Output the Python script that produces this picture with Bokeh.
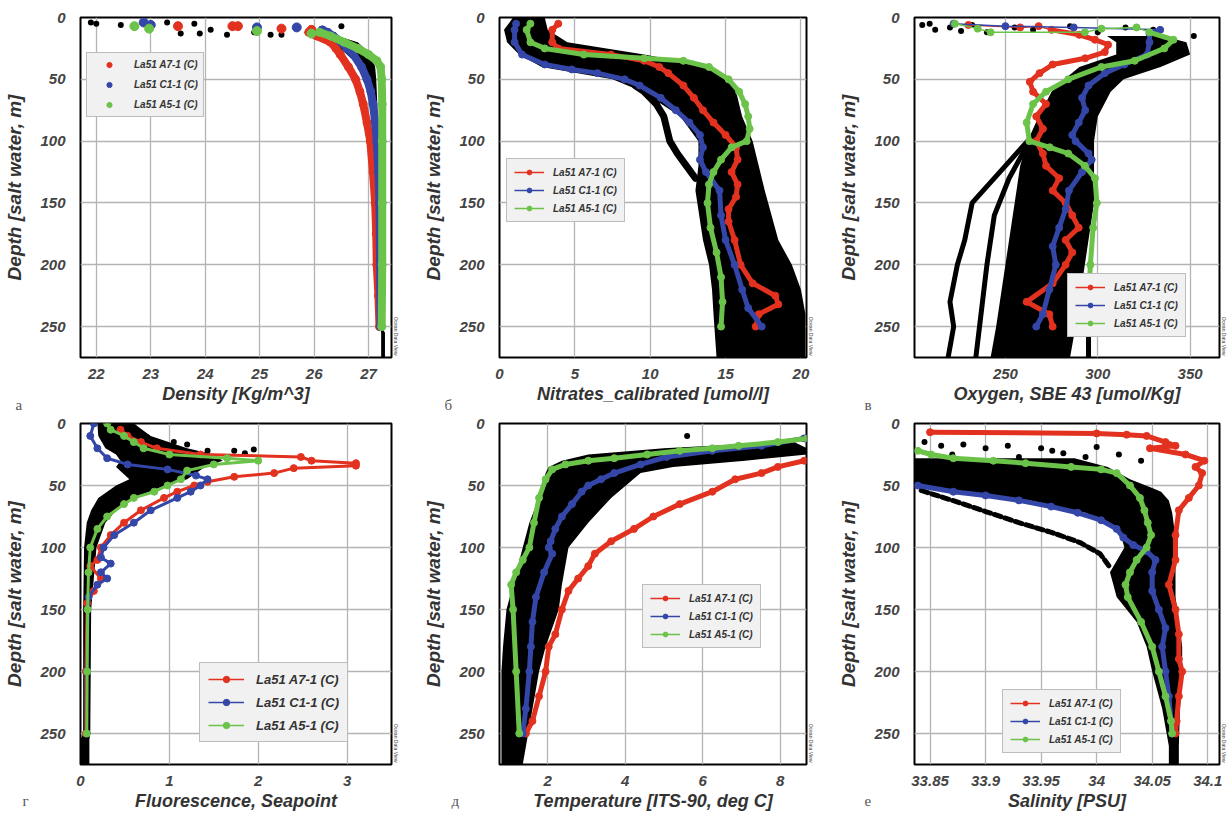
import math
from bokeh.plotting import figure
from bokeh.models import Range1d, FixedTicker, Legend, LegendItem, Title
from bokeh.layouts import gridplot
from bokeh.embed import file_html
from bokeh.resources import INLINE

RED = "#e2321f"
BLUE = "#3447a8"
GREEN = "#6cc34a"
NAMES = ["La51 A7-1 (C)", "La51 C1-1 (C)", "La51 A5-1 (C)"]
DEPTH_TICKS = [0, 50, 100, 150, 200, 250]
Y_LABEL = "Depth [salt water, m]"

# ---------------- а: Density ----------------
dens_ticks = [22, 23, 24, 25, 26, 27]
dens_red_d = [12, 15, 20, 25, 30, 40, 50, 60, 70, 85, 100, 125, 150, 175, 200, 225, 250]
dens_red_v = [25.9, 26.05, 26.3, 26.4, 26.48, 26.63, 26.76, 26.84, 26.9, 26.97, 27.03, 27.08, 27.12, 27.14, 27.15, 27.18, 27.2]
dens_blue_d = [10, 12, 15, 20, 25, 30, 40, 50, 60, 70, 85, 100, 125, 150, 200, 250]
dens_blue_v = [26.15, 26.25, 26.35, 26.5, 26.6, 26.72, 26.87, 26.97, 27.04, 27.08, 27.12, 27.15, 27.18, 27.2, 27.21, 27.22]
dens_green_d = [12, 15, 20, 25, 30, 35, 40, 50, 70, 100, 150, 200, 250]
dens_green_v = [26.1, 26.3, 26.55, 26.8, 27.0, 27.15, 27.22, 27.24, 27.25, 27.25, 27.25, 27.25, 27.24]
dens_red_sd = [7, 7, 7, 9, 10]
dens_red_sv = [23.5, 24.5, 24.6, 25.4, 25.95]
dens_blue_sd = [4, 6, 8, 8, 11]
dens_blue_sv = [22.87, 23.0, 24.95, 25.68, 26.14]
dens_green_sd = [7, 9, 11, 13]
dens_green_sv = [22.7, 22.97, 24.95, 25.95]
dens_blk_d = [4, 5, 6, 7, 13, 13, 14, 12, 14, 14, 7, 4, 5, 10]
dens_blk_v = [21.9, 22.0, 22.45, 23.0, 23.55, 23.9, 24.4, 24.9, 25.2, 25.4, 26.5, 23.3, 23.8, 24.1]
dens_cl_d = [12, 20, 30, 40, 50, 70, 100, 150, 200, 250, 255, 275]
dens_cl_l = [25.8, 26.35, 26.6, 26.85, 26.97, 27.05, 27.12, 27.17, 27.2, 27.22, 27.23, 27.23]
dens_cl_r = [26.2, 26.8, 27.05, 27.12, 27.14, 27.16, 27.18, 27.2, 27.22, 27.24, 27.3, 27.3]

# ---------------- б: Nitrates ----------------
nit_ticks = [0, 5, 10, 15, 20]
nit_red_d = [5, 10, 20, 25, 30, 35, 40, 45, 55, 65, 75, 85, 95, 105, 115, 125, 135, 145, 155, 165, 180, 200, 215, 225, 232, 240, 250]
nit_red_v = [3.9, 3.5, 3.5, 3.9, 7.4, 9.6, 10.6, 11.2, 12.2, 12.9, 13.5, 14.2, 15.0, 15.7, 15.8, 15.4, 15.8, 15.7, 15.2, 15.2, 15.6, 16.0, 16.8, 18.3, 18.5, 17.2, 17.0]
nit_blue_d = [5, 10, 20, 30, 38, 42, 45, 50, 55, 65, 75, 85, 95, 105, 115, 125, 140, 160, 180, 200, 220, 235, 250]
nit_blue_v = [1.1, 1.0, 1.0, 1.5, 3.0, 4.8, 6.5, 8.3, 9.3, 10.7, 11.7, 12.6, 13.3, 13.5, 13.3, 13.7, 14.6, 14.7, 15.0, 15.6, 16.1, 16.5, 17.4]
nit_green_d = [5, 10, 20, 25, 30, 33, 35, 40, 50, 60, 70, 80, 90, 100, 105, 115, 125, 135, 150, 170, 190, 210, 230, 250]
nit_green_v = [2.05, 1.8, 2.05, 3.0, 5.6, 9.6, 12.2, 13.9, 15.2, 15.9, 16.3, 16.5, 16.6, 16.4, 15.4, 14.7, 14.2, 13.9, 13.8, 14.0, 14.4, 14.7, 14.8, 14.7]
nit_cl_d = [0, 10, 20, 30, 40, 50, 60, 80, 100, 120, 140, 180, 200, 220, 240, 275]
nit_cl_l = [0.9, 0.3, 0.5, 1.3, 2.8, 7.5, 9.5, 12.0, 13.2, 13.2, 13.0, 13.5, 13.9, 14.1, 14.2, 14.4]
nit_cl_r = [3.0, 3.2, 4.5, 9.6, 13.9, 15.2, 15.7, 16.1, 16.8, 17.2, 17.6, 18.5, 19.4, 20.0, 20.3, 20.3]
nit_out_d = [55, 60, 70, 80, 90, 100, 110, 120, 130]
nit_out_v = [9.0, 9.6, 10.4, 10.9, 11.1, 11.3, 11.8, 12.4, 13.0]

# ---------------- в: Oxygen ----------------
oxy_ticks = [250, 300, 350]
oxy_red_d = [10, 14, 18, 22, 28, 33, 38, 45, 52, 60, 70, 80, 90, 100, 110, 120, 130, 140, 150, 160, 170, 180, 190, 200, 215, 230, 240, 250]
oxy_red_v = [275, 290, 298.5, 305.6, 303.8, 293.2, 275.6, 268.5, 263.2, 265, 272, 266.7, 270.3, 266.7, 270.3, 272, 279.1, 275.6, 282.6, 286.2, 289.7, 282.6, 286.2, 282.6, 275.6, 261.5, 273.8, 275.6]
oxy_blue_d = [10, 13, 20, 30, 38, 45, 55, 65, 75, 85, 95, 100, 110, 115, 125, 140, 155, 170, 185, 200, 220, 240, 250]
oxy_blue_v = [333.8, 328, 328, 326.7, 314.4, 303.8, 295, 291.5, 293.2, 289.7, 286.2, 288, 295, 296.7, 291.5, 284.4, 282.6, 279.1, 275.6, 277.3, 273.8, 270.3, 266.7]
oxy_green_d = [12, 18, 25, 35, 40, 50, 60, 70, 85, 100, 105, 110, 120, 130, 150, 170, 200, 230, 250]
oxy_green_v = [328, 341, 336, 320, 302, 284, 272, 265, 261.5, 263, 274, 284, 293, 298.5, 299.5, 297.5, 296, 295, 295]
oxy_red_sd = [6, 8, 7]
oxy_red_sv = [230, 258, 268]
oxy_blue_sd = [5, 7, 8]
oxy_blue_sv = [222, 250, 287]
oxy_green_sd = [5, 9, 12, 12, 9, 8]
oxy_green_sv = [222.7, 235, 242, 293, 302, 321]
oxy_blk_d = [6, 10, 8, 6, 12, 8, 10, 7, 12, 8, 10, 15, 5, 11]
oxy_blk_v = [205, 212, 220, 232, 240, 255, 265, 285, 300, 315, 330, 352, 209, 226]
oxy_cl_d = [15, 20, 30, 40, 50, 60, 80, 100, 120, 150, 200, 250, 275]
oxy_cl_l = [305, 310, 310, 290, 282, 275, 268, 262, 258, 255, 250, 245, 242]
oxy_cl_r = [335, 348, 350, 334, 314, 307, 300, 298, 298, 298, 293, 288, 285]
oxy_out1_d = [100, 120, 150, 180, 200, 230, 250, 275]
oxy_out1_v = [262, 250, 232, 228, 224, 220, 222, 219]
oxy_out2_d = [100, 130, 160, 200, 250, 275]
oxy_out2_v = [263, 252, 244, 240, 236, 234]
oxy_out3_d = [252, 275]
oxy_out3_v = [295, 295]

# ---------------- г: Fluorescence ----------------
flu_ticks = [0, 1, 2, 3]
flu_red_d = [5, 10, 15, 20, 25, 27, 30, 32, 34, 36, 40, 43, 47, 50, 55, 60, 70, 80, 90, 100, 110, 115, 125, 135, 145, 200, 250]
flu_red_v = [0.45, 0.53, 0.68, 0.86, 1.35, 2.48, 2.6, 3.1, 3.1, 2.4, 2.18, 1.73, 1.43, 1.28, 1.09, 0.94, 0.68, 0.49, 0.34, 0.23, 0.19, 0.11, 0.23, 0.15, 0.075, 0.06, 0.06]
flu_blue_d = [0, 10, 20, 28, 33, 37, 42, 45, 50, 55, 60, 70, 80, 90, 100, 108, 113, 120, 125, 130, 140, 200, 250]
flu_blue_v = [0.15, 0.11, 0.19, 0.3, 0.53, 0.98, 1.3, 1.43, 1.35, 1.24, 1.09, 0.79, 0.6, 0.38, 0.26, 0.23, 0.34, 0.23, 0.3, 0.19, 0.09, 0.07, 0.07]
flu_green_d = [0, 5, 10, 15, 20, 25, 28, 30, 33, 38, 45, 50, 55, 60, 65, 75, 85, 100, 120, 150, 200, 250]
flu_green_v = [0.3, 0.34, 0.49, 0.6, 0.71, 1.0, 1.65, 2.0, 1.5, 1.2, 1.13, 0.98, 0.83, 0.6, 0.49, 0.3, 0.19, 0.11, 0.09, 0.08, 0.075, 0.07]
flu_blk_d = [3, 11, 19, 17, 22, 22, 21, 27, 15, 24]
flu_blk_v = [0.6, 0.75, 0.98, 1.2, 1.43, 1.73, 1.95, 1.5, 1.05, 1.85]
flu_cl_d = [0, 10, 20, 25, 30, 35, 45, 50, 60, 70, 80, 100, 150, 250, 255, 275]
flu_cl_l = [0.19, 0.2, 0.28, 0.4, 0.45, 0.4, 0.55, 0.4, 0.2, 0.12, 0.07, 0.04, 0.03, 0.03, 0.0, 0.0]
flu_cl_r = [0.6, 0.79, 1.2, 1.5, 1.6, 1.4, 1.2, 0.95, 0.6, 0.4, 0.28, 0.18, 0.12, 0.11, 0.1, 0.1]

# ---------------- д: Temperature ----------------
tmp_ticks = [2, 4, 6, 8]
tmp_red_d = [30, 35, 40, 45, 55, 65, 75, 85, 95, 105, 115, 125, 135, 150, 170, 180, 200, 220, 240, 250]
tmp_red_v = [8.62, 7.94, 7.52, 6.84, 6.25, 5.41, 4.73, 4.23, 3.64, 3.22, 3.05, 2.79, 2.54, 2.37, 2.2, 2.03, 1.95, 1.78, 1.61, 1.44]
tmp_blue_d = [12, 18, 22, 27, 33, 40, 45, 50, 55, 65, 75, 85, 95, 100, 105, 120, 140, 160, 180, 200, 230, 250]
tmp_blue_v = [8.62, 7.52, 6.25, 5.07, 4.4, 3.72, 3.38, 3.05, 2.88, 2.63, 2.37, 2.2, 2.08, 2.03, 2.12, 1.91, 1.7, 1.61, 1.57, 1.53, 1.44, 1.36]
tmp_green_d = [12, 15, 18, 20, 22, 25, 28, 30, 33, 37, 45, 60, 80, 100, 110, 120, 130, 150, 200, 250]
tmp_green_v = [8.7, 7.94, 6.93, 6.25, 5.41, 4.57, 3.72, 3.05, 2.46, 2.12, 1.95, 1.78, 1.65, 1.53, 1.36, 1.19, 1.06, 1.11, 1.19, 1.27]
tmp_blk_d = [10]
tmp_blk_v = [5.6]
tmp_cl_d = [15, 20, 25, 30, 35, 40, 60, 80, 100, 130, 150, 180, 200, 275]
tmp_cl_l = [8.0, 5.0, 3.05, 2.37, 2.03, 1.95, 1.78, 1.53, 1.36, 1.11, 0.94, 0.85, 0.81, 0.81]
tmp_cl_r = [8.36, 8.7, 8.7, 7.1, 5.24, 4.4, 3.64, 3.05, 2.54, 2.37, 2.29, 1.95, 1.78, 1.36]

# ---------------- е: Salinity ----------------
sal_ticks = [33.85, 33.9, 33.95, 34.0, 34.05, 34.1]
sal_tick_labels = ["33.85", "33.9", "33.95", "34", "34.05", "34.1"]
sal_red_d = [7, 8, 9, 10, 15, 18, 20, 25, 30, 35, 40, 50, 60, 70, 90, 110, 130, 150, 170, 190, 200, 220, 240, 250]
sal_red_v = [33.85, 34.0, 34.027, 34.045, 34.062, 34.071, 34.048, 34.08, 34.097, 34.089, 34.095, 34.092, 34.083, 34.074, 34.071, 34.071, 34.065, 34.071, 34.074, 34.074, 34.077, 34.074, 34.072, 34.071]
sal_blue_d = [50, 55, 58, 62, 67, 72, 78, 85, 92, 98, 103, 110, 120, 135, 150, 165, 180, 200, 220, 240, 250]
sal_blue_v = [33.839, 33.871, 33.9, 33.93, 33.959, 33.983, 34.004, 34.018, 34.024, 34.033, 34.045, 34.053, 34.05, 34.05, 34.056, 34.062, 34.059, 34.062, 34.065, 34.067, 34.068]
sal_green_d = [22, 25, 28, 30, 32, 35, 37, 40, 50, 60, 70, 80, 90, 100, 110, 120, 130, 140, 160, 180, 200, 220, 240, 250]
sal_green_v = [33.839, 33.851, 33.871, 33.907, 33.936, 33.977, 34.004, 34.018, 34.03, 34.039, 34.043, 34.046, 34.049, 34.045, 34.036, 34.03, 34.026, 34.028, 34.04, 34.05, 34.056, 34.062, 34.067, 34.068]
sal_blk_d = [15, 18, 17, 20, 18, 20, 24, 27, 25, 30, 25, 27, 22, 19]
sal_blk_v = [33.845, 33.86, 33.88, 33.9, 33.92, 33.95, 33.97, 33.99, 34.02, 34.04, 33.87, 33.93, 33.96, 34.0]
sal_cl_d = [28, 35, 45, 52, 55, 62, 72, 85, 100, 120, 140, 160, 180, 200, 230, 260, 275]
sal_cl_l = [33.836, 33.836, 33.836, 33.836, 33.88, 33.94, 33.99, 34.02, 34.025, 34.012, 34.018, 34.036, 34.045, 34.05, 34.059, 34.065, 34.065]
sal_cl_r = [33.98, 34.01, 34.03, 34.05, 34.058, 34.065, 34.068, 34.07, 34.071, 34.071, 34.071, 34.074, 34.077, 34.077, 34.075, 34.074, 34.074]
sal_out_d = [54, 62, 71, 80, 88, 96, 105, 116]
sal_out_v = [33.842, 33.87, 33.9, 33.93, 33.96, 33.985, 34.003, 34.012]

FONT = "Liberation Sans"


def make_panel(xr, xticks, xlabel, letter, w, h, bl, br, bt, bb, letter_off, letter_standoff, overrides=None):
    p = figure(width=w, height=h, x_range=Range1d(*xr), y_range=Range1d(275, 0),
               output_backend="svg", toolbar_location=None,
               min_border_left=bl, min_border_right=br, min_border_top=bt, min_border_bottom=bb)
    p.background_fill_color = "white"
    p.border_fill_color = "white"
    p.outline_line_color = "black"
    p.outline_line_width = 2
    p.xaxis.ticker = FixedTicker(ticks=xticks)
    p.yaxis.ticker = FixedTicker(ticks=DEPTH_TICKS)
    if overrides:
        p.xaxis.major_label_overrides = overrides
    for ax in (p.xaxis[0], p.yaxis[0]):
        ax.axis_line_color = None
        ax.major_tick_line_color = None
        ax.minor_tick_line_color = None
        ax.major_label_text_font = FONT
        ax.major_label_text_font_style = "bold italic"
        ax.major_label_text_font_size = "15px"
        ax.major_label_text_color = "#444444"
        ax.axis_label_text_font = FONT
        ax.axis_label_text_font_style = "bold italic"
        ax.axis_label_text_color = "#333333"
    p.xaxis.axis_label_text_font_size = "18px"
    p.yaxis.axis_label_text_font_size = "19px"
    p.xaxis.axis_label = xlabel
    p.yaxis.axis_label = Y_LABEL
    p.xaxis.major_label_standoff = 5
    p.xaxis.axis_label_standoff = 2
    p.yaxis.major_label_standoff = 9
    p.yaxis.axis_label_standoff = 12
    p.grid.grid_line_color = "#b4b4b4"
    p.grid.grid_line_width = 1.3
    p.add_layout(Title(text=letter, align="left", offset=letter_off, vertical_align="top",
                       standoff=letter_standoff, text_font="Liberation Serif",
                       text_font_size="15px", text_font_style="normal",
                       text_color="#555555"), "below")
    p.add_layout(Title(text="Ocean Data View", align="right", offset=2, standoff=3,
                       text_font=FONT, text_font_size="5px", text_font_style="normal",
                       text_color="#444444"), "right")
    return p


def band(p, d, l, r):
    p.harea(x1=l, x2=r, y=d, fill_color="black")


def black_line(p, v, d, width=5, dash="solid"):
    p.line(v, d, line_color="black", line_width=width, line_dash=dash, line_cap="round")


def black_dots(p, v, d, size=5):
    p.scatter(v, d, marker="circle", size=size, fill_color="black", line_color=None)


def series(p, v, d, color, lw=5, size=7):
    p.line(v, d, line_color=color, line_width=lw, line_join="round", line_cap="round")
    thin = p.line(v, d, line_color=color, line_width=1.5)
    pts = p.scatter(v, d, marker="circle", size=size, fill_color=color, line_color=color)
    return thin, pts


def legend(p, items, loc, font="10px", glyph_w=30, lab_h=12, spacing=6, padding=7, standoff=9):
    lg = Legend(items=items, location=loc)
    lg.label_text_font = FONT
    lg.label_text_font_style = "bold italic"
    lg.label_text_font_size = font
    lg.label_text_color = "#333333"
    lg.glyph_width = glyph_w
    lg.glyph_height = lab_h
    lg.label_height = lab_h
    lg.label_standoff = standoff
    lg.spacing = spacing
    lg.padding = padding
    lg.margin = 0
    lg.border_line_color = "#8a8a8a"
    lg.border_line_width = 1
    lg.background_fill_color = "#f1f1f1"
    lg.background_fill_alpha = 1.0
    p.add_layout(lg)


COLORS = [RED, BLUE, GREEN]
TOP_H, TOP_BT, TOP_BB = 416, 17, 59
BOT_H, BOT_BT, BOT_BB = 398, 6, 50
TOP_LS = -20
BOT_LS = -42

# ---- Panel а
p1 = make_panel((21.71, 27.42), dens_ticks, "Density [Kg/m^3]", "а", 420, TOP_H, 80, 29, TOP_BT, TOP_BB, -65, TOP_LS)
band(p1, dens_cl_d, dens_cl_l, dens_cl_r)
black_dots(p1, dens_blk_v, dens_blk_d, 6)
items = []
for (v, d, sv, sd), c, n in zip([(dens_red_v, dens_red_d, dens_red_sv, dens_red_sd),
                                 (dens_blue_v, dens_blue_d, dens_blue_sv, dens_blue_sd),
                                 (dens_green_v, dens_green_d, dens_green_sv, dens_green_sd)], COLORS, NAMES):
    p1.line(v, d, line_color=c, line_width=8, line_cap="round", line_join="round")
    pts = p1.scatter(v, d, marker="circle", size=8, fill_color=c, line_color=c)
    p1.scatter(sv, sd, marker="circle", size=9, fill_color=c, line_color=c)
    items.append(LegendItem(label=n, renderers=[pts]))
legend(p1, items, (6, 240), glyph_w=34, lab_h=13, spacing=7, padding=5, standoff=8)

# ---- Panel б
p2 = make_panel((0, 20.37), nit_ticks, "Nitrates_calibrated [umol/l]", "б", 415, TOP_H, 77, 26, TOP_BT, TOP_BB - 1, -55, TOP_LS)
band(p2, nit_cl_d, nit_cl_l, nit_cl_r)
black_line(p2, nit_out_v, nit_out_d, 7)
items = []
for (v, d), c, n in zip([(nit_red_v, nit_red_d), (nit_blue_v, nit_blue_d), (nit_green_v, nit_green_d)], COLORS, NAMES):
    thin, pts = series(p2, v, d, c)
    items.append(LegendItem(label=n, renderers=[thin, pts]))
legend(p2, items, (7, 135))

# ---- Panel в
p3 = make_panel((200.8, 365.9), oxy_ticks, "Oxygen, SBE 43 [umol/Kg]", "в", 395, TOP_H, 77, 10, 15, TOP_BB - 1, -50, TOP_LS)
band(p3, oxy_cl_d, oxy_cl_l, oxy_cl_r)
black_line(p3, oxy_out1_v, oxy_out1_d, 5)
black_line(p3, oxy_out2_v, oxy_out2_d, 5)
black_line(p3, oxy_out3_v, oxy_out3_d, 5)
black_dots(p3, oxy_blk_v, oxy_blk_d, 6)
items = []
for (v, d, sv, sd), c, n in zip([(oxy_red_v, oxy_red_d, oxy_red_sv, oxy_red_sd),
                                 (oxy_blue_v, oxy_blue_d, oxy_blue_sv, oxy_blue_sd),
                                 (oxy_green_v, oxy_green_d, oxy_green_sv, oxy_green_sd)], COLORS, NAMES):
    p3.line(sv + [v[0]], sd + [d[0]], line_color=c, line_width=1.5)
    p3.scatter(sv, sd, marker="circle", size=7, fill_color=c, line_color=c)
    thin, pts = series(p3, v, d, c)
    items.append(LegendItem(label=n, renderers=[thin, pts]))
legend(p3, items, (153, 20))

# ---- Panel г
p4 = make_panel((0, 3.5), flu_ticks, "Fluorescence, Seapoint", "г", 420, BOT_H, 80, 29, BOT_BT, BOT_BB, -58, BOT_LS)
band(p4, flu_cl_d, flu_cl_l, flu_cl_r)
black_dots(p4, flu_blk_v, flu_blk_d, 6)
items = []
for (v, d), c, n in zip([(flu_red_v, flu_red_d), (flu_blue_v, flu_blue_d), (flu_green_v, flu_green_d)], COLORS, NAMES):
    thin, pts = series(p4, v, d, c, lw=3, size=7)
    items.append(LegendItem(label=n, renderers=[thin, pts]))
legend(p4, items, (119, 22), font="13px", glyph_w=36, lab_h=16, spacing=7, padding=8, standoff=12)

# ---- Panel д
p5 = make_panel((0.76, 8.68), tmp_ticks, "Temperature [ITS-90, deg C]", "д", 415, BOT_H, 73, 29, BOT_BT + 1, BOT_BB, -48, BOT_LS)
band(p5, tmp_cl_d, tmp_cl_l, tmp_cl_r)
black_dots(p5, tmp_blk_v, tmp_blk_d, 6)
items = []
for (v, d), c, n in zip([(tmp_red_v, tmp_red_d), (tmp_blue_v, tmp_blue_d), (tmp_green_v, tmp_green_d)], COLORS, NAMES):
    thin, pts = series(p5, v, d, c)
    items.append(LegendItem(label=n, renderers=[thin, pts]))
legend(p5, items, (143, 116))

# ---- Panel е
sal_over = {t: s for t, s in zip(sal_ticks, sal_tick_labels)}
p6 = make_panel((33.836, 34.1106), sal_ticks, "Salinity [PSU]", "е", 395, BOT_H, 78, 10, BOT_BT, BOT_BB, -50, BOT_LS, sal_over)
band(p6, sal_cl_d, sal_cl_l, sal_cl_r)
black_line(p6, sal_out_v, sal_out_d, 5, "7 4")
black_dots(p6, sal_blk_v, sal_blk_d, 6)
items = []
for (v, d), c, n in zip([(sal_red_v, sal_red_d), (sal_blue_v, sal_blue_d), (sal_green_v, sal_green_d)], COLORS, NAMES):
    thin, pts = series(p6, v, d, c)
    items.append(LegendItem(label=n, renderers=[thin, pts]))
legend(p6, items, (88, 11))

grid = gridplot([[p1, p2, p3], [p4, p5, p6]], toolbar_location=None)

open("out.html", "w").write(file_html(grid, INLINE))
